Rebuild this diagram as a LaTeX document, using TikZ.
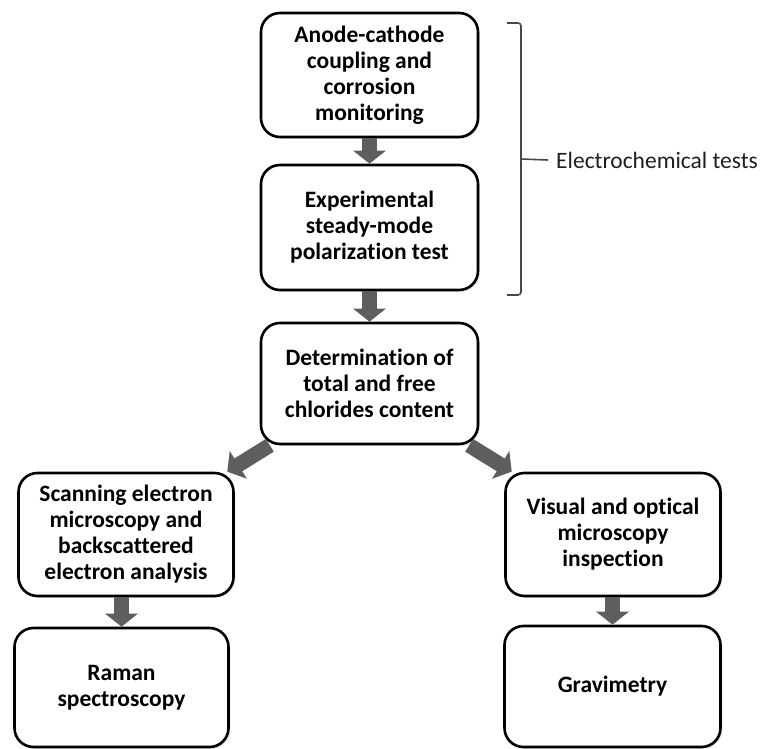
\documentclass[tikz,border=0pt]{standalone}
\usepackage{fontspec}
\setmainfont{Carlito}[Ligatures=NoCommon]
\usetikzlibrary{arrows.meta,shadows,calc}
\tikzset{
  box/.style={draw=black, line width=2.6pt, rounded corners=19pt, fill=white,
    align=center, inner sep=0pt,
    font=\fontsize{23.5}{26}\selectfont\bfseries,
    drop shadow={opacity=0.22, shadow xshift=1.8pt, shadow yshift=-1.8pt}},
  blockarrow/.style={draw=black!63, line width=15pt,
    -{Triangle[length=13pt,width=32pt]}, shorten <=0pt},
  bracepath/.style={draw=black!72, line width=1.6pt, rounded corners=3pt},
}
\begin{document}
\begin{tikzpicture}[x=1pt,y=-1pt]
\useasboundingbox (0,0) rectangle (764,749);
\node[box, minimum width=217pt, minimum height=124pt] (b1) at (369.5,75)
  {Anode-cathode\\coupling and\\corrosion\\monitoring};
\node[box, minimum width=217pt, minimum height=125pt] (b2) at (369.5,227.5)
  {Experimental\\steady-mode\\polarization test};
\node[box, minimum width=217pt, minimum height=121pt] (b3) at (369.5,383.5)
  {Determination of\\total and free\\chlorides content};
\node[box, minimum width=215pt, minimum height=123pt] (b4) at (126,534.5)
  {Scanning electron\\microscopy and\\backscattered\\electron analysis};
\node[box, minimum width=215pt, minimum height=123pt] (b5) at (613,534.5)
  {Visual and optical\\microscopy\\inspection};
\node[box, minimum width=214pt, minimum height=119pt] (b6) at (121.5,687.5)
  {Raman\\spectroscopy};
\node[box, minimum width=216pt, minimum height=121pt] (b7) at (612.5,686.5)
  {Gravimetry};
% arrows
\draw[blockarrow] (b1.south) -- (b2.north);
\draw[blockarrow] (b2.south) -- (b3.north);
\draw[blockarrow] (b3) -- (b4);
\draw[blockarrow] (b3) -- (b5);
\draw[blockarrow] (b6.north |- b4.south) -- (b6.north);
\draw[blockarrow] (b7.north |- b5.south) -- (b7.north);
% brace
\coordinate (bt) at (521,23);
\coordinate (bm) at (521,159);
\coordinate (bb) at (521,295);
\draw[bracepath] (507,23) -- (bt) -- (bm) -- (bb) -- (507,295);
\node[anchor=west, inner sep=0pt, text=black!88,
  font=\fontsize{23.5}{26}\selectfont] (lab) at (556,160) {Electrochemical tests};
\draw[draw=black!72, line width=1.6pt] (bm) -- ($(lab.west)+(-8,0)$);
\end{tikzpicture}
\end{document}
